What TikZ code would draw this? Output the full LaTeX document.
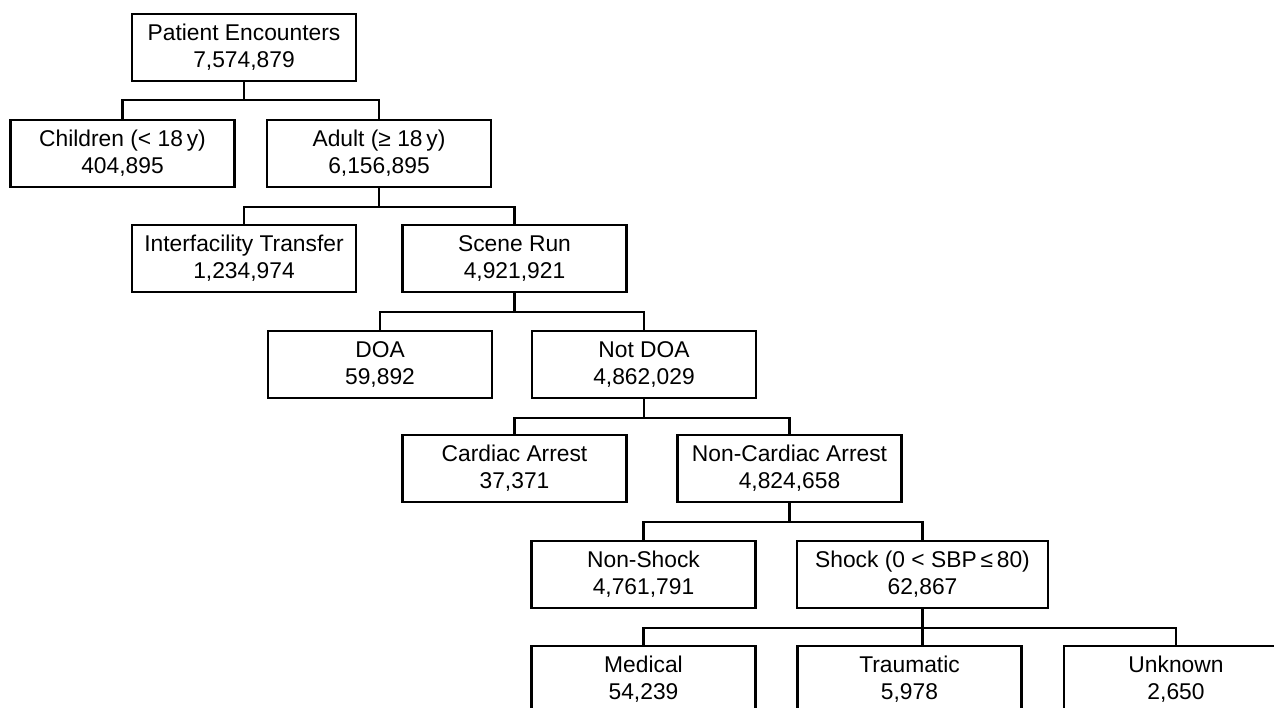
\documentclass[tikz,border=0pt]{standalone}
\usepackage{fontspec}
\setmainfont{Liberation Sans}
\begin{document}
\begin{tikzpicture}[x=1pt,y=-1pt,
  box/.style={draw=black,line width=2.2pt,rectangle,minimum width=224pt,minimum height=67pt,
    inner sep=0pt,align=center,font=\fontsize{22.8}{27}\selectfont},
  wide/.style={minimum width=251pt},
  link/.style={draw=black,line width=2.2pt}]
\fill[white] (0,0) rectangle (1274,708);
\useasboundingbox (0,0) rectangle (1274,708);
\clip (0,0) rectangle (1274,708);
\node[box] (pe) at (244,47.5) {Patient Encounters\\7,574,879};
\node[box] (ch) at (122.5,153.5) {Children (< 18\,y)\\404,895};
\node[box] (ad) at (379,153.5) {Adult (≥ 18\,y)\\6,156,895};
\node[box] (it) at (244,258.5) {Interfacility Transfer\\1,234,974};
\node[box] (sr) at (514.5,258.5) {Scene Run\\4,921,921};
\node[box] (doa) at (380,364.5) {DOA\\59,892};
\node[box] (ndoa) at (644,364.5) {Not DOA\\4,862,029};
\node[box] (ca) at (514.5,468.5) {Cardiac Arrest\\37,371};
\node[box] (nca) at (789.5,468.5) {Non-Cardiac Arrest\\4,824,658};
\node[box] (ns) at (643.5,574.5) {Non-Shock\\4,761,791};
\node[box,wide] (sh) at (922.5,574.5) {Shock (0 < SBP\,≤\,80)\\62,867};
\node[box] (me) at (643.5,679.5) {Medical\\54,239};
\node[box] (tr) at (909.5,679.5) {Traumatic\\5,978};
\node[box] (un) at (1176,679.5) {Unknown\\2,650};
\draw[link] (pe.south) -- ++(0,18) -| (ch.north);
\draw[link] (pe.south) -- ++(0,18) -| (ad.north);
\draw[link] (ad.south) -- ++(0,19) -| (it.north);
\draw[link] (ad.south) -- ++(0,19) -| (sr.north);
\draw[link] (sr.south) -- ++(0,19) -| (doa.north);
\draw[link] (sr.south) -- ++(0,19) -| (ndoa.north);
\draw[link] (ndoa.south) -- ++(0,19) -| (ca.north);
\draw[link] (ndoa.south) -- ++(0,19) -| (nca.north);
\draw[link] (nca.south) -- ++(0,19) -| (ns.north);
\draw[link] (nca.south) -- ++(0,19) -| (sh.north);
\draw[link] (sh.south) -- ++(0,19) -| (me.north);
\draw[link] (sh.south) -- ++(0,19) -| (un.north);
\draw[link] (sh.south) -- (sh.south |- tr.north);
\end{tikzpicture}
\end{document}
